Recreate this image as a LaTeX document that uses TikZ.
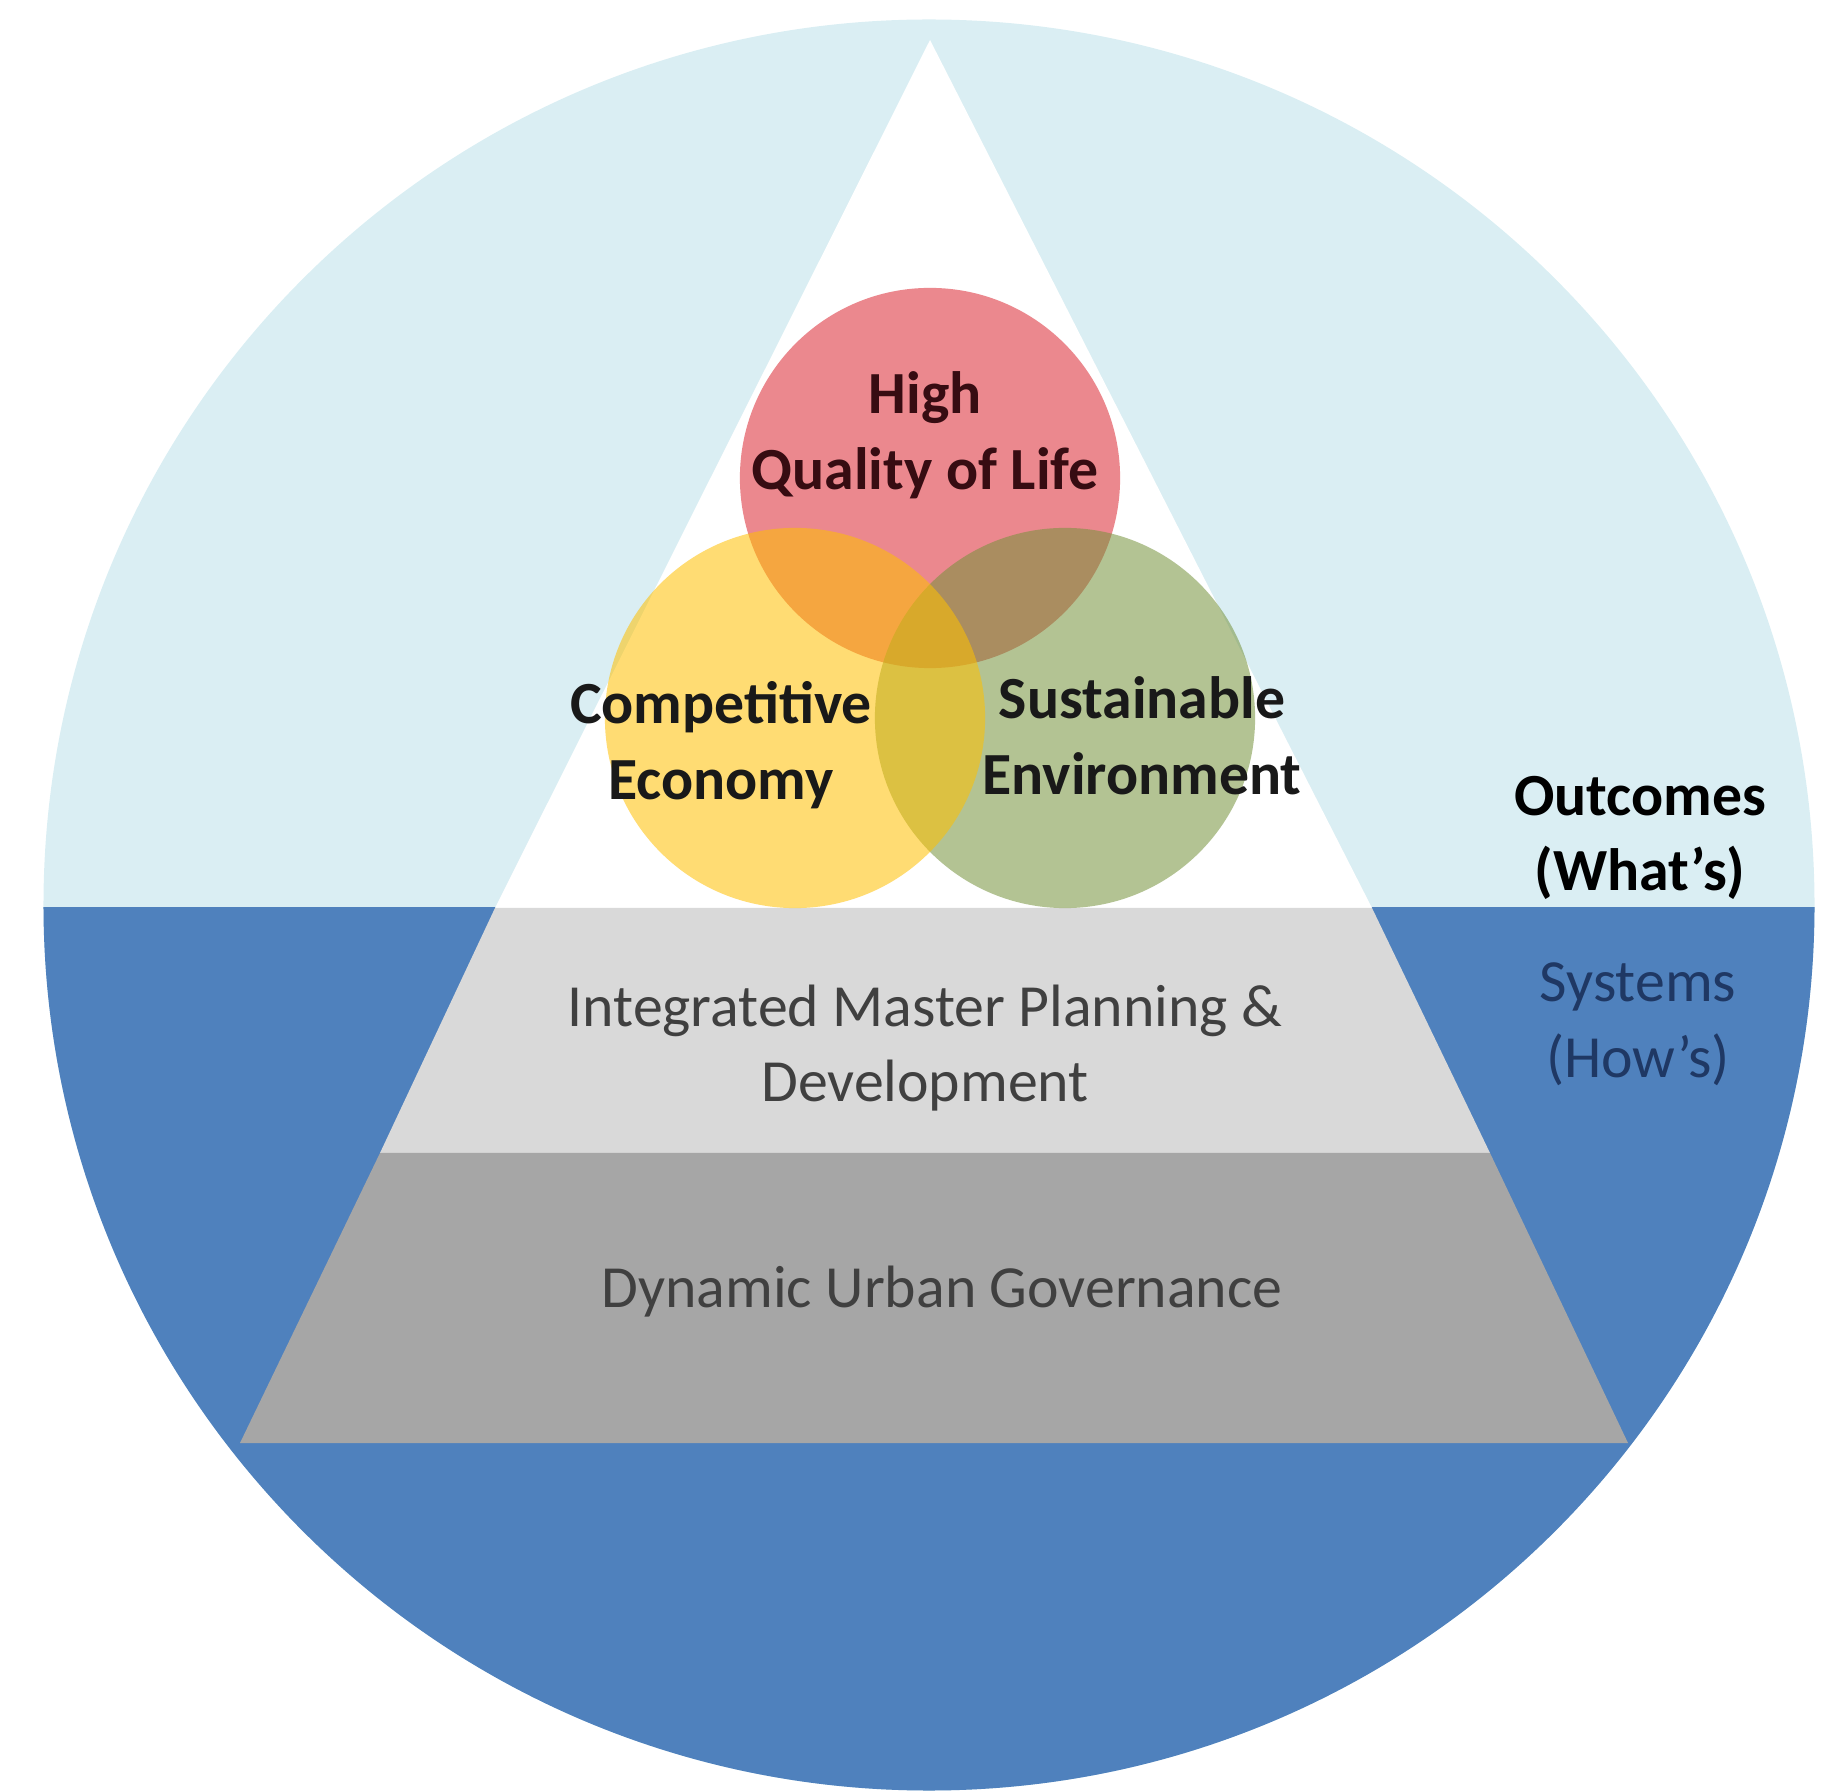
\documentclass[tikz,border=0pt]{standalone}
\usepackage{fontspec}
\setmainfont{Carlito}
\usetikzlibrary{positioning}
\definecolor{skyfill}{RGB}{218,238,243}
\definecolor{seafill}{RGB}{79,129,189}
\definecolor{lightgrey}{RGB}{217,217,217}
\definecolor{midgrey}{RGB}{166,166,166}
\definecolor{lifered}{RGB}{220,40,50}
\definecolor{econyellow}{RGB}{255,192,0}
\definecolor{envgreen}{RGB}{118,146,60}
\definecolor{navytext}{RGB}{31,56,100}
\definecolor{greytext}{RGB}{64,64,64}
\definecolor{lifetext}{RGB}{55,12,18}

\begin{document}
\begin{tikzpicture}[x=0.01cm, y=-0.01cm]
        \tikzset{blob/.style={circle, minimum size=3.8cm, inner sep=0pt, fill opacity=0.55},
                 lbl/.style={align=center, font=\fontsize{17}{21.5}\selectfont\bfseries},
                 tier/.style={align=center, font=\fontsize{17}{21.5}\selectfont, text=greytext}}
        \useasboundingbox (0,0) rectangle (1839,1792);
        % the disc: outcomes above, systems below
        \fill[skyfill] (929,905) circle[radius=8.85cm];
        \begin{scope}
            \clip (0,908) rectangle (1839,1792);
            \fill[seafill] (929,905) circle[radius=8.85cm];
        \end{scope}
        % pyramid
        \fill[white] (930,40) -- (1372,908) -- (495,908) -- cycle;
        \fill[lightgrey] (495,908) -- (1372,908) -- (1490,1153) -- (380,1153) -- cycle;
        \fill[midgrey] (380,1153) -- (1490,1153) -- (1628,1443) -- (240,1443) -- cycle;
        % three outcomes
        \node[blob, fill=lifered] (life) at (930,478) {};
        \node[blob, fill=envgreen] (env) at (1065,718) {};
        \node[blob, fill=econyellow] (econ) at (795,718) {};
        \node[lbl, text=lifetext] (lifelbl) at (925,435) {High\\Quality of Life};
        \node[lbl, text=black!90] (econlbl) at (721,745) {Competitive\\Economy};
        \node[lbl, text=black!90] (envlbl) at (1142,736) {Sustainable\\Environment};
        \node[lbl, text=black] (whats) at (1640,838) {Outcomes\\(What’s)};
        \node[tier, text=navytext] (hows) at (1638,1024) {Systems\\(How’s)};
        \node[tier] (plan) at (925,1048) {Integrated Master Planning \&\\Development};
        \node[tier] (gov) at (942,1292) {Dynamic Urban Governance};
    \end{tikzpicture}
\end{document}
